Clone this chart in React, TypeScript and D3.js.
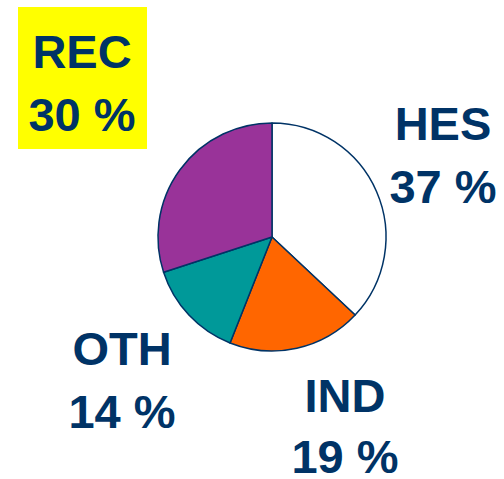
import React from "react";
import * as d3 from "d3";

const categories = ["HES", "IND", "OTH", "REC"];
const values = [37, 19, 14, 30];
const colors = ["#FFFFFF", "#FF6600", "#009999", "#993399"];
const labelLines = [
  ["HES", "37 %"],
  ["IND", "19 %"],
  ["OTH", "14 %"],
  ["REC", "30 %"],
];
const labelPos = [
  [443, 140, 203],
  [345, 412, 473],
  [122, 365, 428],
  [82, 68, 131],
];

export default function App() {
  const W = 504, H = 479;
  const cx = 272, cy = 237, r = 114;
  const pie = d3.pie<number>().sort(null).value((d) => d)(values);
  const arc = d3.arc<d3.PieArcDatum<number>>().innerRadius(0).outerRadius(r);
  const navy = "#003366";
  return (
    <svg width={W} height={H} style={{ position: "absolute", left: 0, top: 0 }}>
      <rect x={0} y={0} width={W} height={H} fill="#fff" />
      <rect x={18} y={7} width={129} height={142} fill="#FFFF00" />
      <g transform={`translate(${cx},${cy})`}>
        {pie.map((p, i) => (
          <path key={categories[i]} d={arc(p) || ""} fill={colors[i]} stroke={navy} strokeWidth={1.5} strokeLinejoin="round" />
        ))}
      </g>
      {labelLines.map((lines, i) => (
        <text key={i} textAnchor="middle" fill={navy} fontFamily="'Liberation Sans', Arial, sans-serif" fontWeight="bold" fontSize={47}>
          <tspan x={labelPos[i][0]} y={labelPos[i][1]}>{lines[0]}</tspan>
          <tspan x={labelPos[i][0]} y={labelPos[i][2]}>{lines[1]}</tspan>
        </text>
      ))}
    </svg>
  );
}
